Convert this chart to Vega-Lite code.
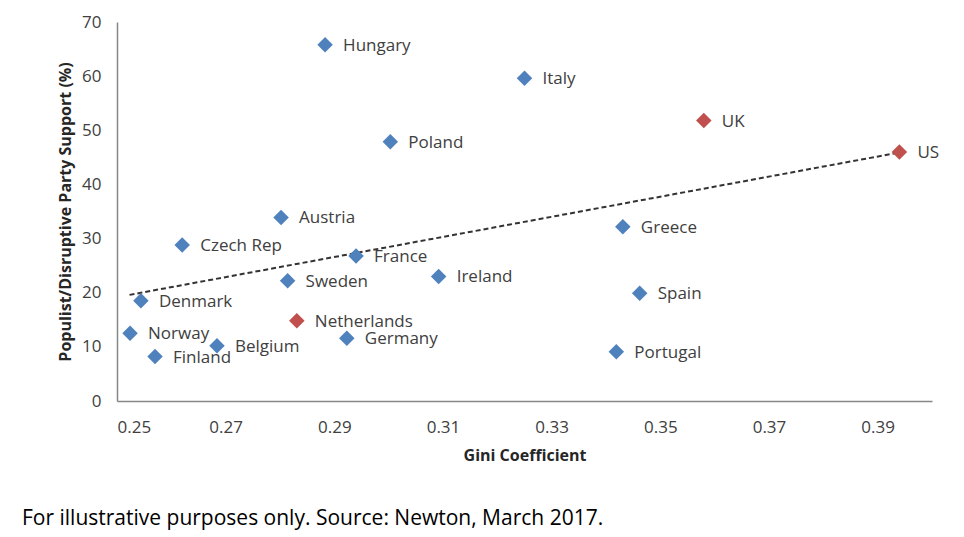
{
  "$schema": "https://vega.github.io/schema/vega-lite/v6.json",
  "width": 815,
  "height": 379,
  "autosize": "none",
  "padding": {"left": 117, "top": 22, "right": 32, "bottom": 136},
  "background": "white",
  "title": {
    "text": "For illustrative purposes only. Source: Newton, March 2017.",
    "orient": "bottom",
    "anchor": "start",
    "frame": "group",
    "dx": -95,
    "offset": 45,
    "font": "Open Sans",
    "fontSize": 21,
    "fontWeight": "normal",
    "color": "#000000"
  },
  "datasets": {
    "countries": [
      {"country": "Hungary", "gini": 0.2883, "support": 65.8, "group": "Europe"},
      {"country": "Italy", "gini": 0.325, "support": 59.6, "group": "Europe"},
      {"country": "UK", "gini": 0.358, "support": 51.8, "group": "Highlight"},
      {"country": "Poland", "gini": 0.3003, "support": 47.9, "group": "Europe"},
      {"country": "US", "gini": 0.394, "support": 46.0, "group": "Highlight"},
      {"country": "Austria", "gini": 0.2802, "support": 33.9, "group": "Europe"},
      {"country": "Greece", "gini": 0.3431, "support": 32.2, "group": "Europe"},
      {"country": "Czech Rep", "gini": 0.262, "support": 28.8, "group": "Europe"},
      {"country": "France", "gini": 0.294, "support": 26.8, "group": "Europe"},
      {"country": "Ireland", "gini": 0.3092, "support": 23.0, "group": "Europe"},
      {"country": "Sweden", "gini": 0.2814, "support": 22.2, "group": "Europe"},
      {"country": "Spain", "gini": 0.3462, "support": 19.9, "group": "Europe"},
      {"country": "Denmark", "gini": 0.2544, "support": 18.5, "group": "Europe"},
      {"country": "Netherlands", "gini": 0.2831, "support": 14.8, "group": "Highlight"},
      {"country": "Norway", "gini": 0.2524, "support": 12.5, "group": "Europe"},
      {"country": "Germany", "gini": 0.2923, "support": 11.6, "group": "Europe"},
      {"country": "Belgium", "gini": 0.2684, "support": 10.2, "group": "Europe"},
      {"country": "Portugal", "gini": 0.3419, "support": 9.1, "group": "Europe"},
      {"country": "Finland", "gini": 0.257, "support": 8.2, "group": "Europe"}
    ],
    "trend": [
      {"gini": 0.2523, "support": 19.6},
      {"gini": 0.394, "support": 45.9}
    ]
  },
  "config": {
    "view": {"stroke": null},
    "axis": {
      "grid": false,
      "ticks": false,
      "domainColor": "#868686",
      "domainWidth": 1.5,
      "labelFont": "Open Sans",
      "labelFontSize": 17,
      "labelColor": "#404040",
      "titleFont": "Open Sans",
      "titleFontWeight": "bold",
      "titleFontSize": 16,
      "titleColor": "#262626"
    }
  },
  "layer": [
    {
      "data": {"name": "trend"},
      "mark": {"type": "line", "color": "#333333", "strokeWidth": 2, "strokeDash": [5, 3]},
      "encoding": {
        "x": {"field": "gini", "type": "quantitative"},
        "y": {"field": "support", "type": "quantitative"}
      }
    },
    {
      "data": {"name": "countries"},
      "mark": {"type": "point", "shape": "diamond", "filled": true, "opacity": 1, "size": 240},
      "encoding": {
        "x": {"field": "gini", "type": "quantitative"},
        "y": {"field": "support", "type": "quantitative"},
        "color": {
          "field": "group",
          "type": "nominal",
          "scale": {"domain": ["Europe", "Highlight"], "range": ["#4F81BD", "#C0504D"]},
          "legend": null
        }
      }
    },
    {
      "data": {"name": "countries"},
      "mark": {"type": "text", "align": "left", "baseline": "middle", "dx": 18, "dy": 1, "font": "Open Sans", "fontSize": 17, "color": "#404040"},
      "encoding": {
        "x": {
          "field": "gini",
          "type": "quantitative",
          "scale": {"domain": [0.25, 0.4], "nice": false, "zero": false},
          "axis": {
            "title": "Gini Coefficient",
            "values": [0.25, 0.27, 0.29, 0.31, 0.33, 0.35, 0.37, 0.39],
            "format": ".2f",
            "labelPadding": 18,
            "titlePadding": 12
          }
        },
        "y": {
          "field": "support",
          "type": "quantitative",
          "scale": {"domain": [0, 70], "nice": false},
          "axis": {
            "title": "Populist/Disruptive Party Support (%)",
            "values": [0, 10, 20, 30, 40, 50, 60, 70],
            "labelPadding": 16,
            "titlePadding": 8
          }
        },
        "text": {"field": "country"}
      }
    }
  ]
}
